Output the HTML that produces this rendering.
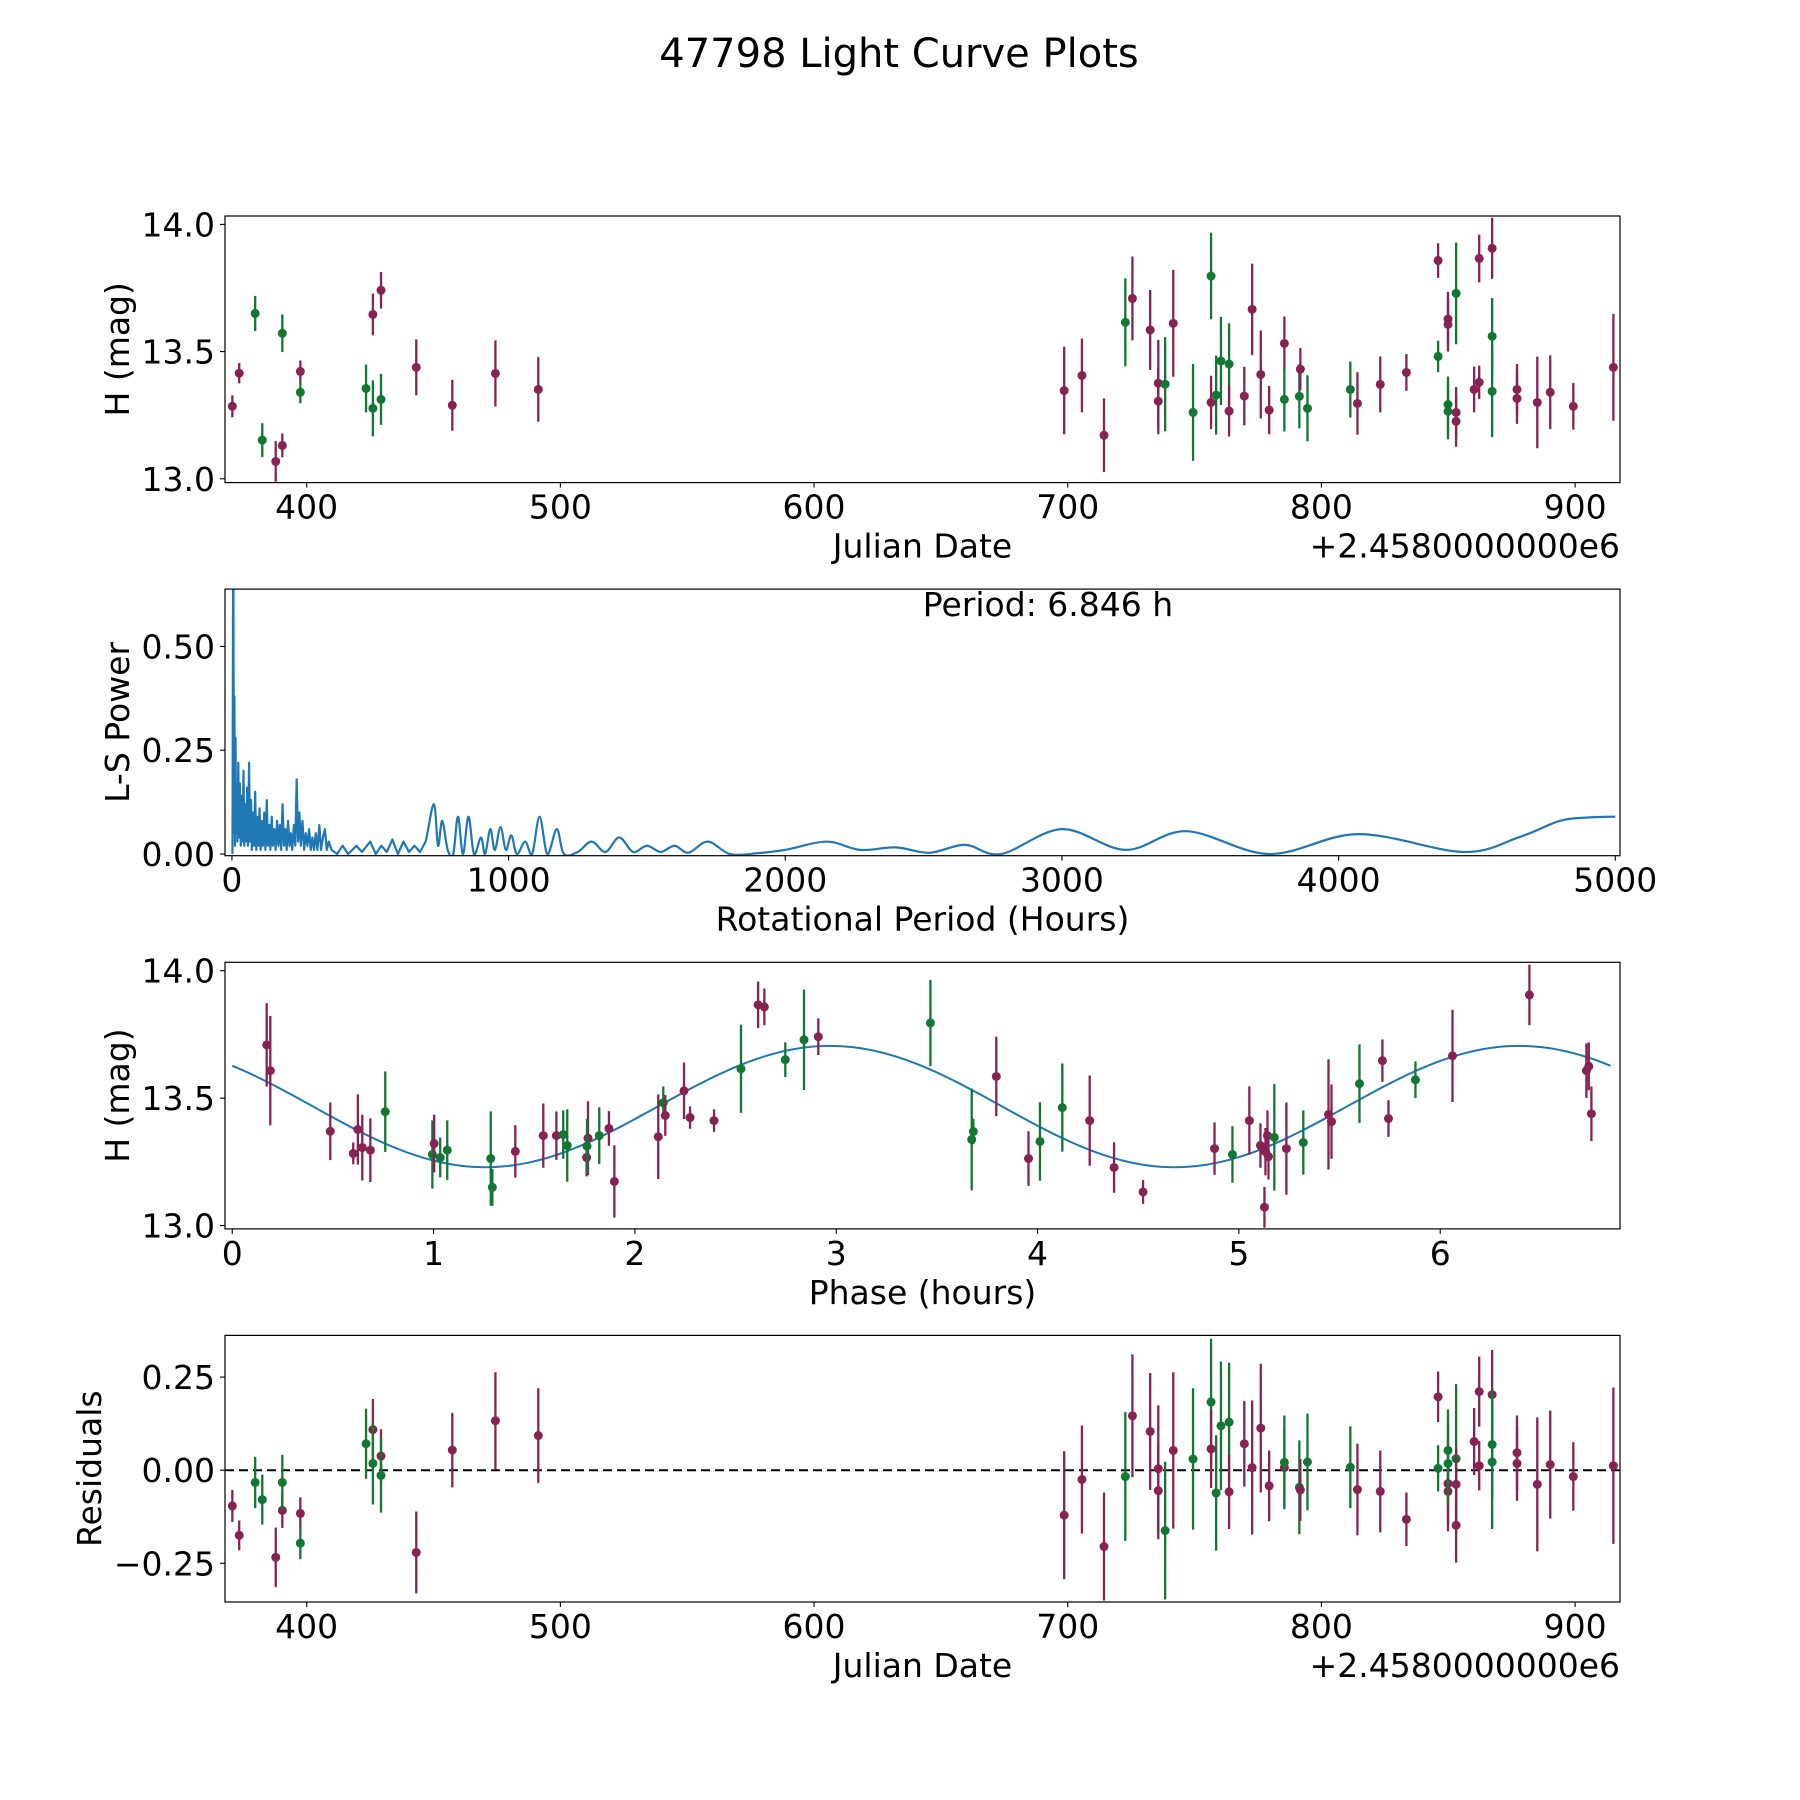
<!DOCTYPE html>
<html><head><meta charset="utf-8"><title>47798 Light Curve Plots</title>
<style>
html,body{margin:0;padding:0;background:#fff;}
svg{display:block;font-family:"DejaVu Sans","Liberation Sans",sans-serif;}
</style></head>
<body>
<svg id="fig" xmlns="http://www.w3.org/2000/svg" width="1800" height="1800" viewBox="0 0 1800 1800">
<rect x="0" y="0" width="1800" height="1800" fill="#fff"/>
<text x="899" y="67" font-size="40" text-anchor="middle">47798 Light Curve Plots</text>
</svg>
<script>
// ---- Light curve data (time domain) ----
var jdVals = [370.7,373.4,379.7,382.5,387.8,390.4,390.4,397.5,397.5,423.4,426.1,426.1,429.3,429.3,443.2,457.4,474.4,491.3,
698.6,705.6,714.3,722.7,725.5,732.5,735.7,735.7,738.4,741.6,749.4,756.5,756.5,758.5,760.4,763.6,763.6,769.6,772.7,776.1,779.4,785.4,785.4,791.3,791.7,794.5,
811.4,814.2,823.2,833.5,846.0,846.0,849.9,849.9,849.9,849.9,853.1,853.1,853.1,860.2,862.2,862.2,867.3,867.3,867.3,877.1,877.1,885.1,890.2,899.3,915.1];
var magVals = [13.285,13.415,13.650,13.152,13.068,13.131,13.572,13.422,13.340,13.355,13.646,13.277,13.741,13.312,13.438,13.289,13.414,13.351,
13.347,13.406,13.171,13.615,13.709,13.585,13.376,13.305,13.372,13.611,13.261,13.797,13.300,13.329,13.463,13.451,13.266,13.325,13.666,13.410,13.270,13.532,13.312,13.324,13.431,13.277,
13.351,13.296,13.371,13.418,13.481,13.858,13.628,13.607,13.292,13.265,13.729,13.261,13.226,13.351,13.379,13.866,13.906,13.56,13.344,13.351,13.316,13.300,13.340,13.285,13.438];
var errVals = [.043,.04,.069,.067,.08,.047,.074,.043,.043,.094,.082,.11,.072,.1,.11,.1,.13,.127,
.172,.145,.145,.173,.165,.157,.17,.13,.185,.21,.19,.17,.105,.155,.173,.16,.1,.115,.18,.173,.095,.106,.126,.126,.083,.13,
.11,.123,.11,.072,.062,.068,.107,.107,.11,.11,.2,.1,.1,.09,.066,.094,.12,.15,.18,.1,.1,.18,.145,.092,.21];
var bandVals = ['m','m','g','g','m','m','g','m','g','g','m','g','m','g','m','m','m','m',
'm','m','m','g','m','m','m','m','g','m','g','g','m','g','g','g','m','m','m','m','m','m','g','g','m','g',
'g','m','m','m','g','m','m','m','g','g','g','m','m','m','m','m','m','g','g','m','m','m','m','m','m'];
var residVals = [-0.096,-0.175,-0.033,-0.079,-0.234,-0.108,-0.033,-0.116,-0.196,0.071,0.109,0.018,0.038,-0.014,-0.221,0.054,0.133,0.093,
-0.121,-0.025,-0.205,-0.017,0.146,0.104,0.004,-0.055,-0.162,0.053,0.030,0.183,0.057,-0.061,0.119,0.129,-0.058,0.071,0.007,0.113,-0.042,0.007,0.021,-0.046,-0.053,0.022,
0.008,-0.052,-0.057,-0.132,0.005,0.197,-0.036,-0.057,0.053,0.018,0.031,-0.038,-0.148,0.077,0.012,0.211,0.203,0.069,0.022,0.047,0.018,-0.038,0.015,-0.017,0.012];

// ---- Phased data ----
var phaseVals = [0.171,0.189,0.487,0.601,0.624,0.646,0.686,0.760,0.994,1.003,1.033,1.068,1.284,1.292,1.406,1.545,1.610,1.644,1.664,1.760,1.767,1.762,1.823,1.871,1.898,
2.116,2.141,2.151,2.244,2.274,2.393,2.527,2.612,2.643,2.747,2.840,2.911,3.468,3.673,3.681,3.795,3.955,4.012,4.123,4.259,4.380,4.524,
4.879,4.968,5.052,5.107,5.127,5.132,5.142,5.147,5.176,5.236,5.320,5.445,5.460,5.599,5.713,5.743,5.877,6.061,6.443,6.726,6.738,6.751];
var phaseMag = [13.709,13.608,13.370,13.283,13.377,13.306,13.296,13.447,13.279,13.322,13.267,13.296,13.263,13.150,13.291,13.353,13.353,13.357,13.314,13.267,13.343,13.312,13.353,13.381,13.173,
13.349,13.482,13.432,13.529,13.424,13.412,13.615,13.866,13.858,13.651,13.729,13.741,13.795,13.338,13.369,13.585,13.263,13.330,13.463,13.412,13.228,13.132,
13.302,13.279,13.412,13.314,13.072,13.290,13.353,13.271,13.346,13.302,13.326,13.436,13.408,13.557,13.647,13.420,13.572,13.666,13.905,13.608,13.625,13.439];
var phaseErr = [.164,.215,.113,.043,.138,.129,.125,.158,.134,.113,.078,.117,.185,.072,.103,.126,.095,.095,.142,.074,.145,.106,.111,.068,.142,
.166,.064,.08,.111,.044,.044,.173,.091,.072,.068,.197,.072,.169,.2,.05,.156,.107,.154,.173,.177,.099,.047,
.103,.111,.134,.087,.08,.093,.099,.09,.209,.181,.126,.216,.146,.154,.083,.072,.072,.181,.119,.107,.094,.107];
var phaseBand = ['m','m','m','m','m','m','m','g','g','m','g','g','g','g','m','m','m','g','g','m','m','g','g','m','m',
'm','g','m','m','m','m','g','m','m','g','g','m','g','g','g','m','m','g','g','m','m','m',
'm','g','m','m','m','m','m','m','g','m','g','m','m','g','m','m','g','m','m','m','m','m'];
// sinusoid model: [mean, amplitude, period (h), phase of maximum]
var modelParams = [13.467, 0.238, 3.423, 2.969];

// ---- Lomb-Scargle periodogram ----
var lsPeriod = [2,5,7,9,11,13,15,18,20,23,26,29,32,35,38,42,45,49,52,55,58,62,65,69,72,76,80,84,88,92,96,100,104,108,112,117,121,126,130,135,139,144,148,153,158,163,168,173,178,183,188,193,198,203,208,213,218,224,229,234,239,244,249,255,261,267,273,279,285,291,297,303,309,316,322,329,336,343,350,
360,380,400,420,450,470,500,520,540,560,580,600,620,640,660,680,700,730,745,760,780,800,817,835,855,875,900,915,934,950,971,990,1010,1030,1060,1085,1112,1140,1174,1200,
1250,1300,1350,1400,1450,1500,1550,1600,1650,1720,1800,1900,2000,2150,2270,2400,2520,2650,2780,3000,3230,3450,3750,4070,4450,4650,4800,4900,5000];
var lsPower = [0.0,0.9,0.05,0.38,0.02,0.28,0.05,0.15,0.03,0.22,0.04,0.17,0.02,0.14,0.03,0.2,0.02,0.12,0.03,0.16,0.02,0.22,0.03,0.13,0.01,0.1,0.02,0.15,0.01,0.09,0.02,0.11,0.01,0.08,0.02,0.1,0.01,0.13,0.02,0.07,0.01,0.09,0.02,0.06,0.01,0.08,0.02,0.07,0.01,0.12,0.02,0.06,0.01,0.08,0.02,0.05,0.01,0.07,0.02,0.18,0.03,0.1,0.02,0.08,0.01,0.05,0.02,0.06,0.01,0.04,0.01,0.05,0.01,0.07,0.01,0.04,0.06,0.01,0.03,
0.01,0.0,0.02,0.0,0.02,0.005,0.03,0.0,0.02,0.005,0.035,0.0,0.03,0.005,0.02,0.005,0.03,0.12,0.02,0.08,0.01,0.0,0.09,0.0,0.09,0.0,0.04,0.0,0.06,0.01,0.065,0.01,0.045,0.0,0.03,0.0,0.09,0.0,0.06,0.0,
0.005,0.03,0.005,0.04,0.005,0.02,0.005,0.02,0.003,0.03,0.0,0.002,0.01,0.03,0.01,0.016,0.003,0.022,0.0,0.06,0.01,0.055,0.0,0.048,0.005,0.04,0.08,0.088,0.09];

var lcXTicks = [400,500,600,700,800,900];
var lcYTicks = [13.0,13.5,14.0];
var lsXTicks = [0,1000,2000,3000,4000,5000];
var lsYTicks = [0.00,0.25,0.50];
var phXTicks = [0,1,2,3,4,5,6];
var resYTicks = [-0.25,0.00,0.25];

var NS = 'http://www.w3.org/2000/svg';
var svg = document.getElementById('fig');
var COL = {m:'#882255', g:'#117733'};
var L = 225, R = 1620, H = 266.6;
var TOPS = [216, 589.1, 962.3, 1335.4];

function mk(tag, attrs, parent) {
  var e = document.createElementNS(NS, tag);
  for (var k in attrs) e.setAttribute(k, attrs[k]);
  (parent || svg).appendChild(e);
  return e;
}
function scale(d0, d1, r0, r1) { return function(v){ return r0 + (v - d0) / (d1 - d0) * (r1 - r0); }; }
function fmt(v, dec) { var s = v.toFixed(dec); return s.charAt(0) === '-' ? '\u2212' + s.slice(1) : s; }

function makePanel(idx, name, xlim, ylim) {
  var top = TOPS[idx], bot = top + H;
  var g = mk('g', {});
  
  
  var cp = mk('clipPath', {id: 'clip' + idx}, g);
  mk('rect', {x: L, y: top, width: R - L, height: H}, cp);
  var plot = mk('g', {'clip-path': 'url(#clip' + idx + ')'}, g);
  
  
  return {g: g, plot: plot, top: top, bot: bot, x: scale(xlim[0], xlim[1], L, R), y: scale(ylim[0], ylim[1], bot, top)};
}
function frame(p, name) {
  var r = mk('rect', {x: L, y: p.top, width: R - L, height: H, fill: 'none', stroke: '#000', 'stroke-width': 1.2}, p.g);
  
  
}
function xTicks(p, ticks, dec, name) {
  ticks.forEach(function(t){
    var X = p.x(t);
    var tk = mk('line', {x1: X, x2: X, y1: p.bot, y2: p.bot + 5, stroke: '#000', 'stroke-width': 1.1}, p.g);
    
    
    var tx = mk('text', {x: X, y: p.bot + 36, 'font-size': 33, 'text-anchor': 'middle'}, p.g);
    tx.textContent = fmt(t, dec);
    
    
  });
}
function yTicks(p, ticks, dec, name) {
  ticks.forEach(function(t){
    var Y = p.y(t);
    var tk = mk('line', {x1: L - 5, x2: L, y1: Y, y2: Y, stroke: '#000', 'stroke-width': 1.1}, p.g);
    
    
    var tx = mk('text', {x: L - 10, y: Y + 12, 'font-size': 33, 'text-anchor': 'end'}, p.g);
    tx.textContent = fmt(t, dec);
    
    
  });
}
function label(p, text, x, y, rot, name, anchor) {
  var a = {x: x, y: y, 'font-size': 33, 'text-anchor': anchor || 'middle'};
  if (rot) a.transform = 'rotate(-90 ' + x + ' ' + y + ')';
  var t = mk('text', a, p.g);
  t.textContent = text;
  
  
}
function errPoints(p, xs, ys, es, bs, name) {
  for (var i = 0; i < xs.length; i++) {
    var X = p.x(xs[i]);
    var c = COL[bs[i]];
    var ln = mk('line', {x1: X, x2: X, y1: p.y(ys[i] - es[i]), y2: p.y(ys[i] + es[i]), stroke: c, 'stroke-width': 2.3}, p.plot);
    
    
    var dot = mk('circle', {cx: X, cy: p.y(ys[i]), r: 4.5, fill: c}, p.plot);
    
    
  }
}

// Panel 1: light curve
var p1 = makePanel(0, 'light-curve-panel', [367.8, 917.7], [12.985, 14.033]);
errPoints(p1, jdVals, magVals, errVals, bandVals, 'observation');
frame(p1, 'light-curve');
xTicks(p1, lcXTicks, 0, 'light-curve');
yTicks(p1, lcYTicks, 1, 'light-curve');
label(p1, 'H (mag)', 129, (p1.top + p1.bot) / 2, true, 'y-axis-title');
label(p1, 'Julian Date', (L + R) / 2, p1.bot + 75, false, 'x-axis-title');
label(p1, '+2.4580000000e6', R, p1.bot + 75, false, 'x-offset-text', 'end');

// Panel 2: periodogram
var p2 = makePanel(1, 'periodogram-panel', [-25, 5017], [-0.004, 0.638]);
(function(){
  var pts = lsPeriod.map(function(v, i){ return [p2.x(v), p2.y(lsPower[i])]; });
  var d = 'M' + pts[0][0].toFixed(2) + ',' + pts[0][1].toFixed(2);
  for (var i = 1; i < pts.length; i++) {
    if (lsPeriod[i] <= 700) { d += 'L' + pts[i][0].toFixed(2) + ',' + pts[i][1].toFixed(2); continue; }
    var p0 = pts[i - 2] || pts[i - 1], a = pts[i - 1], b = pts[i], n = pts[i + 1] || b;
    var c1x = a[0] + (b[0] - p0[0]) / 6, c1y = a[1] + (b[1] - p0[1]) / 6;
    var c2x = b[0] - (n[0] - a[0]) / 6, c2y = b[1] - (n[1] - a[1]) / 6;
    d += 'C' + c1x.toFixed(2) + ',' + c1y.toFixed(2) + ' ' + c2x.toFixed(2) + ',' + c2y.toFixed(2) + ' ' + b[0].toFixed(2) + ',' + b[1].toFixed(2);
  }
  var path = mk('path', {d: d, fill: 'none', stroke: '#1f77b4', 'stroke-width': 2.2, 'stroke-linejoin': 'round'}, p2.plot);
  
  
})();
frame(p2, 'periodogram');
xTicks(p2, lsXTicks, 0, 'periodogram');
yTicks(p2, lsYTicks, 2, 'periodogram');
label(p2, 'L-S Power', 129, (p2.top + p2.bot) / 2, true, 'y-axis-title');
label(p2, 'Rotational Period (Hours)', (L + R) / 2, p2.bot + 75, false, 'x-axis-title');
label(p2, 'Period: 6.846 h', 1048, 616, false, 'period-annotation');

// Panel 3: phased light curve
var p3 = makePanel(2, 'phased-panel', [-0.036, 6.893], [12.987, 14.033]);
(function(){
  var d = '';
  for (var i = 0; i <= 300; i++) {
    var ph = 6.846 * i / 300;
    var m = modelParams[0] + modelParams[1] * Math.cos(2 * Math.PI * (ph - modelParams[3]) / modelParams[2]);
    d += (i ? 'L' : 'M') + p3.x(ph).toFixed(2) + ',' + p3.y(m).toFixed(2);
  }
  var path = mk('path', {d: d, fill: 'none', stroke: '#1f77b4', 'stroke-width': 2}, p3.plot);
  
  
})();
errPoints(p3, phaseVals, phaseMag, phaseErr, phaseBand, 'phased-observation');
frame(p3, 'phased');
xTicks(p3, phXTicks, 0, 'phased');
yTicks(p3, lcYTicks, 1, 'phased');
label(p3, 'H (mag)', 129, (p3.top + p3.bot) / 2, true, 'y-axis-title');
label(p3, 'Phase (hours)', (L + R) / 2, p3.bot + 75, false, 'x-axis-title');

// Panel 4: residuals
var p4 = makePanel(3, 'residuals-panel', [367.8, 917.7], [-0.354, 0.362]);
(function(){
  var z = mk('line', {x1: L, x2: R, y1: p4.y(0), y2: p4.y(0), stroke: '#000', 'stroke-width': 2, 'stroke-dasharray': '9,5'}, p4.plot);
  
  
})();
errPoints(p4, jdVals, residVals, errVals, bandVals, 'residual');
frame(p4, 'residuals');
xTicks(p4, lcXTicks, 0, 'residuals');
yTicks(p4, resYTicks, 2, 'residuals');
label(p4, 'Residuals', 101, (p4.top + p4.bot) / 2, true, 'y-axis-title');
label(p4, 'Julian Date', (L + R) / 2, p4.bot + 75, false, 'x-axis-title');
label(p4, '+2.4580000000e6', R, p4.bot + 75, false, 'x-offset-text', 'end');
</script>
</body></html>
